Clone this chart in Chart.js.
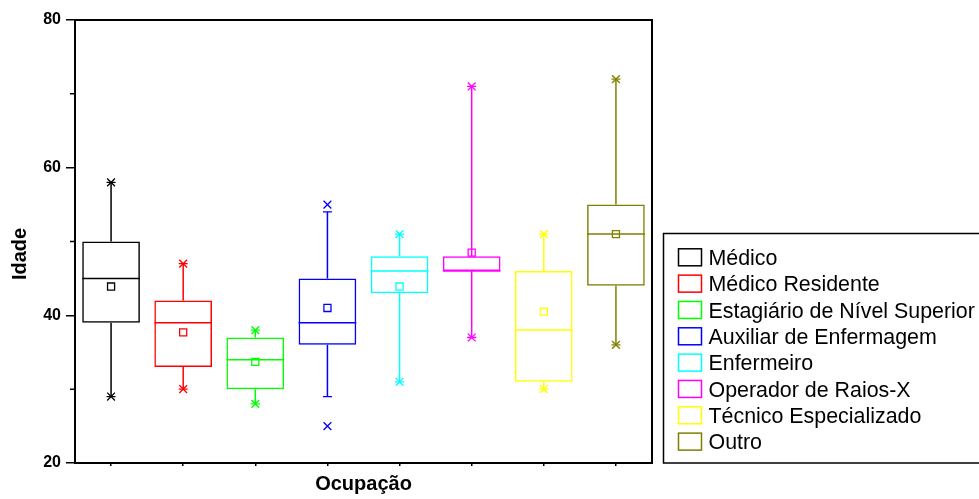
<!DOCTYPE html>
<html><head><meta charset="utf-8">
<script src="https://cdn.jsdelivr.net/npm/chart.js@4/dist/chart.umd.min.js"></script>
<style>html,body{margin:0;padding:0;background:#fff;}#wrap{width:979px;height:499px;position:relative;}</style>
</head><body><div id="wrap"><canvas id="c"></canvas></div>
<script>
const categories = ['Médico','Médico Residente','Estagiário de Nível Superior','Auxiliar de Enfermagem','Enfermeiro','Operador de Raios-X','Técnico Especializado','Outro'];
const colors = ['#000000','#FF0000','#00FF00','#0000FF','#00FFFF','#FF00FF','#FFFF00','#808000'];
const q1 = [39,33,30,36,43,46,31,44];
const q3 = [50,42,37,45,48,48,46,55];
const median = [45,39,34,39,46,46,38,51];
const mean = [43.9,37.7,33.7,41,43.9,48.5,40.5,51];
const whiskerLow = [29,30,28,29,31,37,30,36];
const whiskerHigh = [58,47,38,54,51,71,51,72];
const p1 = [29,30,28,25,31,37,30,36];
const p99 = [58,47,38,55,51,71,51,72];
const yTicks = [20,40,60,80];
const yMinorTicks = [30,50,70];
const xTitle = 'Ocupação';
const yTitle = 'Idade';
const FONT = "'Liberation Sans', Arial, sans-serif";
Chart.defaults.font.family = FONT;

const boxPlugin = {
  id: 'boxExtras',
  afterDatasetsDraw(chart) {
    const ctx = chart.ctx, y = chart.scales.y;
    const meta = chart.getDatasetMeta(0);
    ctx.save();
    ctx.lineWidth = 1.5;
    meta.data.forEach((bar, i) => {
      const x = bar.x, w = bar.width;
      ctx.strokeStyle = colors[i];
      ctx.beginPath();
      ctx.moveTo(x, y.getPixelForValue(q3[i])); ctx.lineTo(x, y.getPixelForValue(whiskerHigh[i]));
      ctx.moveTo(x, y.getPixelForValue(q1[i])); ctx.lineTo(x, y.getPixelForValue(whiskerLow[i]));
      const m = y.getPixelForValue(median[i]);
      ctx.moveTo(x - w / 2, m); ctx.lineTo(x + w / 2, m);
      ctx.stroke();
    });
    ctx.restore();
  },
  afterDraw(chart) {
    const ctx = chart.ctx, a = chart.chartArea, y = chart.scales.y;
    ctx.save();
    // frame
    ctx.strokeStyle = '#000'; ctx.lineWidth = 2;
    ctx.strokeRect(a.left, a.top, a.right - a.left, a.bottom - a.top);
    // minor ticks
    ctx.lineWidth = 1.5;
    ctx.beginPath();
    yMinorTicks.forEach(v => { const p = y.getPixelForValue(v); ctx.moveTo(a.left - 5, p); ctx.lineTo(a.left, p); });
    ctx.stroke();
    // y title
    ctx.save();
    ctx.translate(20, (a.top + a.bottom) / 2 + 12.5);
    ctx.rotate(-Math.PI / 2);
    ctx.font = 'bold 20px ' + FONT; ctx.fillStyle = '#000';
    ctx.textAlign = 'center'; ctx.textBaseline = 'middle';
    ctx.fillText(yTitle, 0, 0);
    ctx.restore();
    // legend
    const lx = a.right + 11.5, ly = a.bottom - 229.5, lh = 229.5;
    ctx.lineWidth = 1.5; ctx.strokeStyle = '#000';
    ctx.strokeRect(lx, ly, 400, lh);
    ctx.font = '21.4px ' + FONT; ctx.textAlign = 'left'; ctx.textBaseline = 'alphabetic'; ctx.fillStyle = '#000';
    categories.forEach((c, i) => {
      const cy = ly + 23.8 + i * 26.33;
      ctx.strokeStyle = colors[i];
      ctx.strokeRect(lx + 15, cy - 8.5, 23, 17);
      ctx.fillText(c, lx + 45, cy + 7.6);
    });
    ctx.restore();
  }
};

const pointDs = (label, data, style, r) => ({
  type: 'line', label, data, showLine: false, pointStyle: style, pointRadius: r, pointHoverRadius: r,
  pointBorderWidth: 1.3, pointBorderColor: colors, pointBackgroundColor: 'rgba(0,0,0,0)', order: 1
});

new Chart(document.getElementById('c'), {
  type: 'bar',
  data: {
    labels: categories,
    datasets: [
      { type: 'bar', label: 'box', data: categories.map((c, i) => [q1[i], q3[i]]),
        backgroundColor: 'rgba(0,0,0,0)', borderColor: colors, borderWidth: 1.5, borderSkipped: false,
        barPercentage: 0.8, categoryPercentage: 1, order: 3 },
      pointDs('mean', mean, 'rect', 5),
      pointDs('p99', p99, 'crossRot', 5.5),
      pointDs('p1', p1, 'crossRot', 5.5),
      pointDs('whiskerHigh', whiskerHigh, 'line', 4.5),
      pointDs('whiskerLow', whiskerLow, 'line', 4.5)
    ]
  },
  options: {
    responsive: true, maintainAspectRatio: false, animation: false, events: [],
    layout: { padding: { left: 0, right: 327, top: 20, bottom: 0 } },
    plugins: { legend: { display: false }, tooltip: { enabled: false } },
    scales: {
      x: {
        offset: true,
        grid: { display: true, offset: false, drawOnChartArea: false, drawTicks: true, tickLength: 3, color: '#000', lineWidth: 1.5 },
        border: { display: true, color: '#000', width: 2 },
        ticks: { display: false },
        title: { display: true, text: xTitle, color: '#000', font: { size: 20, weight: 'bold' }, padding: { top: 0, bottom: 3 } },
        afterFit(s) { s.height = 36; }
      },
      y: {
        min: 20, max: 80,
        afterBuildTicks(s) { s.ticks = yTicks.map(v => ({ value: v })); },
        grid: { drawOnChartArea: false, drawTicks: true, tickLength: 9, color: '#000', lineWidth: 1.5 },
        border: { display: true, color: '#000', width: 2 },
        ticks: { padding: 5, color: '#000', font: { size: 16, weight: 'bold' } },
        afterFit(s) { s.width = 75; }
      }
    }
  },
  plugins: [boxPlugin]
});
</script></body></html>
